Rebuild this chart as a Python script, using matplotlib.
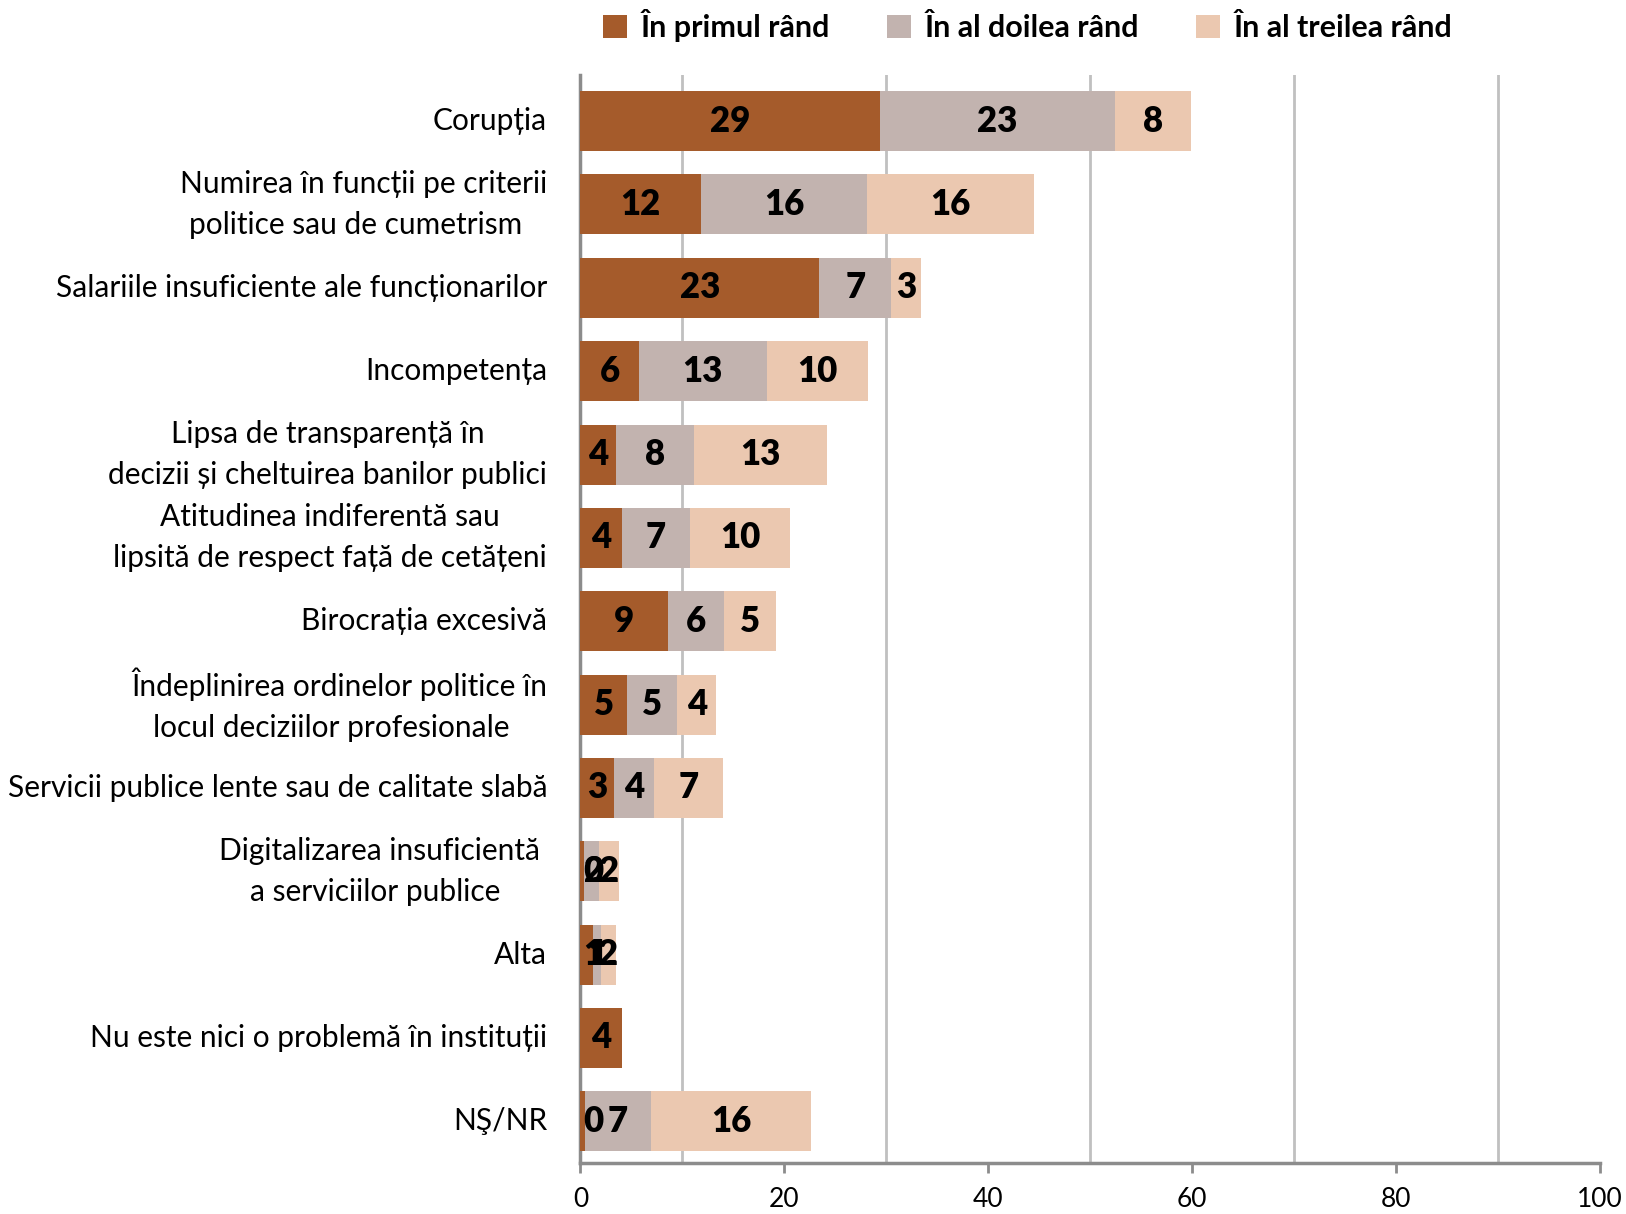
import numpy as np
import matplotlib
matplotlib.use('Agg')
import matplotlib.pyplot as plt
from matplotlib.patches import Patch
from matplotlib.ticker import MultipleLocator

plt.rcParams['font.family'] = ['Lato', 'DejaVu Sans']

categories = ['Corupția',
              'Numirea în funcții pe criterii\npolitice sau de cumetrism  ',
              'Salariile insuficiente ale funcționarilor',
              'Incompetența',
              'Lipsa de transparență în\ndecizii și cheltuirea banilor publici',
              'Atitudinea indiferentă sau\nlipsită de respect față de cetățeni',
              'Birocrația excesivă',
              'Îndeplinirea ordinelor politice în\nlocul deciziilor profesionale  ',
              'Servicii publice lente sau de calitate slabă',
              'Digitalizarea insuficientă \na serviciilor publice  ',
              'Alta',
              'Nu este nici o problemă în instituții',
              'NŞ/NR']

primul = [29.4, 11.8, 23.4, 5.7, 3.5, 4.1, 8.6, 4.6, 3.3, 0.3, 1.2, 4.1, 0.4]
doilea = [23.0, 16.3, 7.1, 12.6, 7.6, 6.6, 5.5, 4.9, 3.9, 1.5, 0.8, 0.0, 6.5]
treilea = [7.5, 16.4, 2.9, 9.9, 13.1, 9.9, 5.1, 3.8, 6.8, 2.0, 1.5, 0.0, 15.7]

series = ['În primul rând', 'În al doilea rând', 'În al treilea rând']
colors = ['#A55B2B', '#C2B3AF', '#EBC8B0']

fig = plt.figure(figsize=(16.26, 12.14), dpi=100)
ax = fig.add_axes([0.357, 0.042, 0.627, 0.896])

y = np.arange(len(categories))
left = np.zeros(len(categories))
for vals, col in zip([primul, doilea, treilea], colors):
    vals = np.array(vals)
    ax.barh(y, vals, left=left, height=0.72, color=col, zorder=3)
    for yi, l, v in zip(y, left, vals):
        if v > 0:
            # labels are kept inside the plot area like in the original
            ax.text(max(l + v / 2, 1.3), yi, str(int(v + 0.5)), ha='center', va='center',
                    fontsize=25, fontweight='heavy', color='black', zorder=4)
    left = left + vals

ax.set_xlim(0, 100)
ax.set_ylim(12.5, -0.55)
ax.set_yticks(y)
ax.set_yticklabels([])
# category labels drawn by hand
for yi, cat in zip(y, categories):
    ax.annotate(cat, xy=(0, yi), xycoords=('axes fraction', 'data'),
                xytext=(-24, 0), textcoords='offset points', ha='right', va='center',
                multialignment='center', linespacing=1.57, fontsize=21.5)
ax.xaxis.set_major_locator(MultipleLocator(20))
ax.xaxis.set_minor_locator(MultipleLocator(10))
ax.grid(False)
for gx in [10, 30, 50, 70, 90]:
    ax.axvline(gx, color='#C0C0C0', lw=2, zorder=1)
ax.tick_params(axis='y', length=0)
ax.tick_params(axis='x', which='major', labelsize=19, length=7, width=2, color='#8C8C8C', pad=10)
ax.tick_params(axis='x', which='minor', length=0)

for s in ['top', 'right']:
    ax.spines[s].set_visible(False)
ax.spines['left'].set_color('#8C8C8C')
ax.spines['left'].set_linewidth(2.5)
ax.spines['bottom'].set_color('#8C8C8C')
ax.spines['bottom'].set_linewidth(2.5)

handles = [Patch(facecolor=c, edgecolor='none') for c in colors]
leg = fig.legend(handles, series, loc='center', bbox_to_anchor=(0.632, 0.979), ncol=3,
                 frameon=False, handlelength=0.8, handleheight=0.8, handletextpad=0.45,
                 columnspacing=1.85, prop={'weight': 'bold', 'size': 22})

fig.savefig('out.png', dpi=100)
